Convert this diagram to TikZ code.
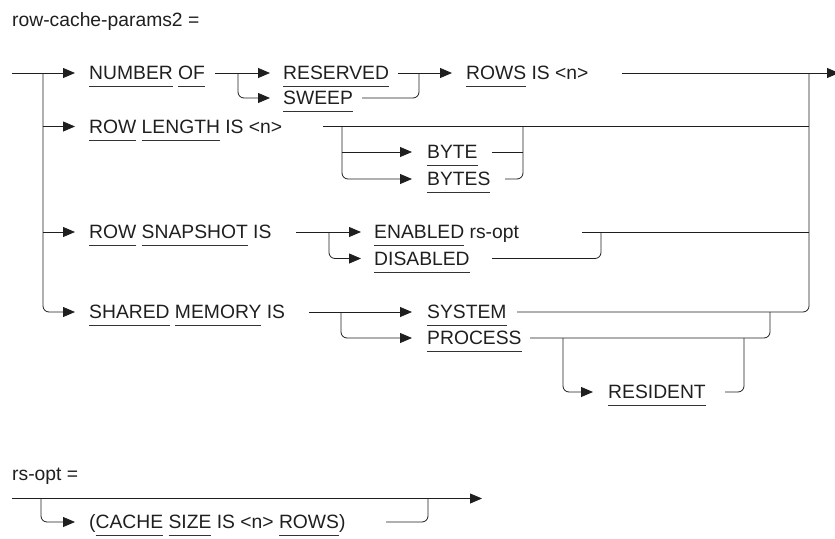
\documentclass[tikz,border=0pt]{standalone}
\usepackage{fontspec}
\setmainfont{Liberation Sans}
\usetikzlibrary{arrows.meta}
\newcommand\kw[1]{\setbox0\hbox{#1}\rlap{\color{black!80}\rule[-7.5pt]{\wd0}{0.7pt}}\box0\relax}
\tikzset{
  ln/.style={line width=0.8pt, draw=black!88},
  arr/.style={ln, -{Triangle[length=12pt,width=10pt]}},
  rc/.style={rounded corners=6pt},
  txt/.style={anchor=base west, inner sep=0pt, text=black!88, font=\fontsize{19.3}{22}\selectfont},
}
\begin{document}
\begin{tikzpicture}[x=1pt,y=-1pt]
\useasboundingbox (0,0) rectangle (835,538);
% titles
\node[txt] (title) at (12,27) {row-cache-params2 =};
\node[txt] (rsoptt) at (12,480) {rs-opt =};
% text nodes
\node[txt] (num) at (89,79.5) {\kw{NUMBER} \kw{OF}};
\node[txt] (rl) at (89,133) {\kw{ROW} \kw{LENGTH} IS <n>};
\node[txt] (rs) at (89,238.5) {\kw{ROW} \kw{SNAPSHOT} IS};
\node[txt] (sm) at (89,318.5) {\kw{SHARED} \kw{MEMORY} IS};
\node[txt] (res) at (283,79.5) {\kw{RESERVED}};
\node[txt] (swp) at (283,104.5) {\kw{SWEEP}};
\node[txt] (rows) at (466,79.5) {\kw{ROWS} IS <n>};
\node[txt] (byte) at (427,158.5) {\kw{BYTE}};
\node[txt] (bytes) at (427,185.5) {\kw{BYTES}};
\node[txt] (en) at (374,238.5) {\kw{ENABLED} rs-opt};
\node[txt] (dis) at (374,265) {\kw{DISABLED}};
\node[txt] (sys) at (427,318.5) {\kw{SYSTEM}};
\node[txt] (proc) at (427,344.5) {\kw{PROCESS}};
\node[txt] (resid) at (608,398.5) {\kw{RESIDENT}};
\node[txt] (cache) at (89,528.5) {(\kw{CACHE} \kw{SIZE} IS <n> \kw{ROWS})};
% coordinates
\coordinate (in1) at (12,73);
\coordinate (v1) at (43,73);
\coordinate (anum) at (75,73);
\coordinate (vrl) at (43,126.5);
\coordinate (arl) at (75,126.5);
\coordinate (vrs) at (43,232);
\coordinate (ars) at (75,232);
\coordinate (asm) at (75,312);
\coordinate (c1s) at (215,73);
\coordinate (c1j) at (238,73);
\coordinate (ares) at (270,73);
\coordinate (aswp) at (270,98);
\coordinate (c1r) at (398,73);
\coordinate (c1m) at (419,73);
\coordinate (c1w) at (362,98);
\coordinate (arows) at (452,73);
\coordinate (c1e) at (622,73);
\coordinate (jR) at (809,73);
\coordinate (out) at (839,73);
\coordinate (c2s) at (323,126.5);
\coordinate (c2e) at (809,126.5);
\coordinate (c2j) at (342,126.5);
\coordinate (c2b) at (342,152);
\coordinate (abyte) at (412,152);
\coordinate (abytes) at (412,179);
\coordinate (byteE) at (492,152);
\coordinate (byteJ) at (523,152);
\coordinate (bytesE) at (505,179);
\coordinate (c2m) at (523,126.5);
\coordinate (c3s) at (296,232);
\coordinate (c3j) at (329,232);
\coordinate (aen) at (361,232);
\coordinate (adis) at (361,258.5);
\coordinate (c3e) at (582,232);
\coordinate (c3r) at (809,232);
\coordinate (disE) at (492,258.5);
\coordinate (c3m) at (601,232);
\coordinate (c4s) at (309,312);
\coordinate (c4j) at (341,312);
\coordinate (asys) at (412,312);
\coordinate (aproc) at (412,338);
\coordinate (sysE) at (517,312);
\coordinate (procE) at (530,338);
\coordinate (c4m) at (770,312);
\coordinate (c4r) at (563,338);
\coordinate (aresid) at (593,392);
\coordinate (residE) at (725,392);
\coordinate (c4n) at (744,338);
\coordinate (r0) at (12,498.5);
\coordinate (rj) at (41,498.5);
\coordinate (rout) at (482,498.5);
\coordinate (acache) at (75,522);
\coordinate (cacheE) at (386,522);
\coordinate (rm) at (428,498.5);
% main branches
\draw[arr] (in1) -- (anum);
\draw[arr,rc] (v1) |- (asm);
\draw[arr] (vrl) -- (arl);
\draw[arr] (vrs) -- (ars);
% NUMBER OF
\draw[arr] (c1s) -- (ares);
\draw[arr,rc] (c1j) |- (aswp);
\draw[ln] (c1r) -- (c1m);
\draw[ln,rc] (c1w) -| (c1m);
\draw[arr] (c1m) -- (arows);
\draw[arr] (c1e) -- (out);
% ROW LENGTH
\draw[ln] (c2s) -- (c2e);
\draw[arr,rc] (c2j) |- (abytes);
\draw[arr] (c2b) -- (abyte);
\draw[ln] (byteE) -- (byteJ);
\draw[ln,rc] (bytesE) -| (c2m);
% ROW SNAPSHOT
\draw[arr] (c3s) -- (aen);
\draw[arr,rc] (c3j) |- (adis);
\draw[ln] (c3e) -- (c3r);
\draw[ln,rc] (disE) -| (c3m);
% SHARED MEMORY
\draw[arr] (c4s) -- (asys);
\draw[arr,rc] (c4j) |- (aproc);
\draw[ln,rc] (sysE) -| (jR);
\draw[ln,rc] (procE) -| (c4m);
\draw[arr,rc] (c4r) |- (aresid);
\draw[ln,rc] (residE) -| (c4n);
% rs-opt
\draw[arr] (r0) -- (rout);
\draw[arr,rc] (rj) |- (acache);
\draw[ln,rc] (cacheE) -| (rm);
\end{tikzpicture}
\end{document}
